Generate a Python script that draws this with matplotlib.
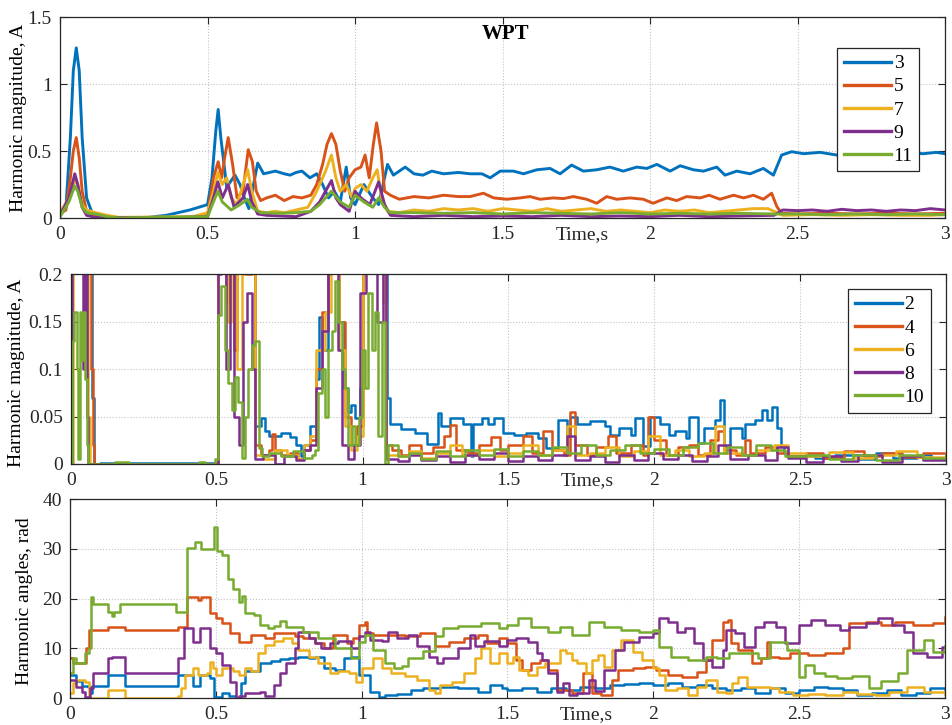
import matplotlib.pyplot as plt
from matplotlib.ticker import FormatStrFormatter
import numpy as np

plt.rcParams['font.family'] = ['Liberation Serif', 'DejaVu Serif']
plt.rcParams['font.size'] = 14

C_BLUE = '#0072BD'
C_ORANGE = '#D95319'
C_YELLOW = '#EDB120'
C_PURPLE = '#7E2F8E'
C_GREEN = '#77AC30'

# ---- odd harmonic magnitudes, A  (time s, value)
h3 = [(0, 0.03), (0.02, 0.08), (0.035, 0.6), (0.045, 1.1), (0.055, 1.27), (0.065, 1.1), (0.075, 0.6),
      (0.09, 0.15), (0.11, 0.03), (0.14, 0.01), (0.2, 0.0), (0.3, 0.005), (0.36, 0.02), (0.4, 0.04),
      (0.44, 0.06), (0.47, 0.08), (0.5, 0.1), (0.515, 0.3), (0.528, 0.65), (0.536, 0.81), (0.545, 0.6),
      (0.565, 0.23), (0.593, 0.32), (0.61, 0.25), (0.625, 0.15), (0.64, 0.07), (0.67, 0.41), (0.69, 0.33),
      (0.71, 0.34), (0.73, 0.35), (0.76, 0.33), (0.78, 0.32), (0.8, 0.34), (0.82, 0.35), (0.847, 0.3),
      (0.87, 0.33), (0.89, 0.25), (0.91, 0.15), (0.93, 0.2), (0.95, 0.12), (0.97, 0.38), (0.985, 0.15),
      (1.0, 0.1), (1.03, 0.25), (1.06, 0.15), (1.08, 0.1), (1.11, 0.4), (1.13, 0.32), (1.17, 0.38),
      (1.2, 0.33), (1.23, 0.32), (1.26, 0.35), (1.3, 0.33), (1.35, 0.34), (1.39, 0.33), (1.43, 0.33),
      (1.458, 0.3), (1.492, 0.35), (1.537, 0.35), (1.571, 0.33), (1.616, 0.36), (1.661, 0.37),
      (1.695, 0.33), (1.734, 0.395), (1.774, 0.35), (1.819, 0.36), (1.864, 0.38), (1.909, 0.35),
      (1.955, 0.38), (1.989, 0.37), (2.023, 0.4), (2.068, 0.35), (2.102, 0.39), (2.147, 0.36),
      (2.181, 0.35), (2.226, 0.38), (2.254, 0.32), (2.294, 0.35), (2.339, 0.33), (2.384, 0.37),
      (2.418, 0.32), (2.446, 0.47), (2.48, 0.495), (2.52, 0.48), (2.576, 0.49), (2.633, 0.47),
      (2.7, 0.49), (2.78, 0.48), (2.86, 0.49), (2.926, 0.48), (2.97, 0.49), (3.0, 0.48)]
h5 = [(0, 0.03), (0.02, 0.06), (0.035, 0.3), (0.045, 0.5), (0.055, 0.6), (0.065, 0.45), (0.075, 0.2),
      (0.09, 0.05), (0.11, 0.02), (0.15, 0.005), (0.3, 0.0), (0.45, 0.005), (0.5, 0.02), (0.52, 0.3),
      (0.536, 0.42), (0.548, 0.3), (0.558, 0.45), (0.57, 0.6), (0.585, 0.4), (0.6, 0.15), (0.62, 0.2),
      (0.638, 0.51), (0.652, 0.42), (0.665, 0.2), (0.68, 0.13), (0.7, 0.15), (0.73, 0.17), (0.76, 0.13),
      (0.79, 0.16), (0.82, 0.15), (0.85, 0.17), (0.87, 0.25), (0.89, 0.4), (0.905, 0.55), (0.92, 0.63),
      (0.935, 0.55), (0.95, 0.35), (0.965, 0.2), (0.98, 0.3), (1.0, 0.36), (1.02, 0.38), (1.034, 0.47),
      (1.048, 0.3), (1.062, 0.55), (1.073, 0.71), (1.088, 0.5), (1.1, 0.2), (1.12, 0.17), (1.15, 0.14),
      (1.2, 0.16), (1.25, 0.15), (1.3, 0.17), (1.35, 0.16), (1.39, 0.16), (1.435, 0.185), (1.47, 0.15),
      (1.514, 0.14), (1.56, 0.15), (1.593, 0.16), (1.627, 0.14), (1.672, 0.15), (1.706, 0.145),
      (1.74, 0.16), (1.785, 0.14), (1.819, 0.11), (1.853, 0.16), (1.887, 0.14), (1.932, 0.15),
      (1.977, 0.14), (2.01, 0.11), (2.057, 0.15), (2.09, 0.13), (2.124, 0.16), (2.17, 0.15), (2.2, 0.17),
      (2.237, 0.14), (2.283, 0.17), (2.317, 0.15), (2.35, 0.17), (2.384, 0.14), (2.412, 0.185),
      (2.43, 0.084), (2.446, 0.035), (2.5, 0.03), (2.6, 0.035), (2.7, 0.03), (2.8, 0.035), (2.9, 0.03),
      (3.0, 0.035)]
h7 = [(0, 0.04), (0.03, 0.15), (0.05, 0.28), (0.06, 0.25), (0.075, 0.1), (0.09, 0.06), (0.12, 0.04),
      (0.16, 0.02), (0.2, 0.005), (0.45, 0.01), (0.5, 0.04), (0.52, 0.2), (0.535, 0.34), (0.55, 0.25),
      (0.565, 0.3), (0.58, 0.15), (0.6, 0.1), (0.62, 0.25), (0.636, 0.36), (0.65, 0.2), (0.67, 0.05),
      (0.7, 0.04), (0.73, 0.05), (0.76, 0.04), (0.8, 0.06), (0.84, 0.08), (0.87, 0.2), (0.9, 0.35),
      (0.92, 0.47), (0.935, 0.3), (0.95, 0.2), (0.97, 0.25), (0.99, 0.15), (1.0, 0.22), (1.02, 0.25),
      (1.04, 0.2), (1.06, 0.3), (1.075, 0.36), (1.09, 0.15), (1.11, 0.05), (1.15, 0.04), (1.2, 0.06),
      (1.25, 0.05), (1.3, 0.07), (1.35, 0.06), (1.4, 0.07), (1.45, 0.05), (1.5, 0.07), (1.55, 0.06),
      (1.6, 0.05), (1.65, 0.07), (1.7, 0.05), (1.75, 0.06), (1.8, 0.07), (1.85, 0.05), (1.9, 0.06),
      (1.95, 0.05), (2.0, 0.04), (2.05, 0.06), (2.1, 0.05), (2.15, 0.06), (2.2, 0.04), (2.25, 0.05),
      (2.3, 0.06), (2.35, 0.07), (2.4, 0.07), (2.43, 0.04), (2.45, 0.02), (2.55, 0.025), (2.65, 0.02),
      (2.75, 0.025), (2.85, 0.02), (2.95, 0.02), (3.0, 0.025)]
h9 = [(0, 0.02), (0.03, 0.15), (0.05, 0.33), (0.06, 0.25), (0.075, 0.08), (0.09, 0.02), (0.12, 0.005),
      (0.3, 0.0), (0.5, 0.01), (0.52, 0.15), (0.535, 0.27), (0.55, 0.15), (0.57, 0.25), (0.59, 0.08),
      (0.62, 0.15), (0.636, 0.25), (0.65, 0.12), (0.67, 0.03), (0.7, 0.02), (0.8, 0.01), (0.85, 0.05),
      (0.88, 0.12), (0.92, 0.28), (0.935, 0.15), (0.95, 0.1), (0.98, 0.05), (1.0, 0.2), (1.02, 0.15),
      (1.05, 0.1), (1.08, 0.27), (1.1, 0.1), (1.12, 0.02), (1.2, 0.01), (1.3, 0.02), (1.4, 0.01),
      (1.5, 0.015), (1.6, 0.01), (1.7, 0.02), (1.8, 0.01), (1.9, 0.015), (2.0, 0.01), (2.1, 0.02),
      (2.2, 0.01), (2.3, 0.015), (2.42, 0.02), (2.45, 0.06), (2.5, 0.055), (2.55, 0.06), (2.6, 0.05),
      (2.65, 0.065), (2.7, 0.055), (2.75, 0.06), (2.8, 0.05), (2.85, 0.06), (2.9, 0.055), (2.95, 0.07),
      (3.0, 0.06)]
h11 = [(0, 0.01), (0.03, 0.12), (0.05, 0.24), (0.06, 0.2), (0.075, 0.08), (0.09, 0.04), (0.12, 0.03),
       (0.16, 0.01), (0.2, 0.0), (0.5, 0.01), (0.52, 0.12), (0.535, 0.2), (0.55, 0.12), (0.58, 0.06),
       (0.61, 0.1), (0.635, 0.14), (0.65, 0.08), (0.68, 0.04), (0.75, 0.035), (0.8, 0.04), (0.85, 0.05),
       (0.88, 0.1), (0.92, 0.2), (0.95, 0.12), (0.98, 0.08), (1.0, 0.17), (1.03, 0.12), (1.06, 0.08),
       (1.08, 0.15), (1.1, 0.08), (1.12, 0.04), (1.2, 0.04), (1.3, 0.035), (1.4, 0.04), (1.5, 0.03),
       (1.6, 0.04), (1.7, 0.035), (1.8, 0.03), (1.9, 0.04), (2.0, 0.03), (2.1, 0.035), (2.2, 0.03),
       (2.3, 0.035), (2.42, 0.03), (2.5, 0.03), (2.6, 0.025), (2.7, 0.03), (2.8, 0.025), (2.9, 0.03),
       (3.0, 0.025)]

# ---- even harmonic magnitudes, A
e2 = [(0, 0.0), (0.003, 0.3), (0.068, 0.3), (0.072, 0.07), (0.078, 0.0), (0.1, 0.001), (0.5, 0.001),
      (0.505, 0.3), (0.62, 0.3), (0.63, 0.04), (0.65, 0.048), (0.665, 0.035), (0.68, 0.03), (0.72, 0.033),
      (0.75, 0.028), (0.77, 0.02), (0.79, 0.008), (0.8, 0.02), (0.82, 0.04), (0.84, 0.09), (0.85, 0.155),
      (0.86, 0.12), (0.88, 0.2), (0.89, 0.3), (0.92, 0.15), (0.935, 0.08), (0.95, 0.055), (0.96, 0.062),
      (0.975, 0.048), (0.99, 0.08), (1.0, 0.3), (1.075, 0.3), (1.085, 0.07), (1.095, 0.042),
      (1.13, 0.037), (1.18, 0.033), (1.22, 0.021), (1.26, 0.054), (1.27, 0.04), (1.3, 0.048),
      (1.345, 0.042), (1.37, 0.008), (1.38, 0.042), (1.41, 0.048), (1.43, 0.042), (1.45, 0.048),
      (1.48, 0.033), (1.52, 0.031), (1.56, 0.033), (1.6, 0.027), (1.63, 0.017), (1.67, 0.046),
      (1.7, 0.03), (1.71, 0.05), (1.735, 0.042), (1.78, 0.045), (1.83, 0.04), (1.85, 0.031),
      (1.88, 0.038), (1.92, 0.031), (1.935, 0.048), (1.96, 0.019), (1.985, 0.05), (2.02, 0.042),
      (2.05, 0.031), (2.07, 0.035), (2.11, 0.027), (2.12, 0.05), (2.15, 0.022), (2.17, 0.038),
      (2.21, 0.046), (2.225, 0.067), (2.24, 0.019), (2.26, 0.038), (2.3, 0.027), (2.31, 0.042),
      (2.345, 0.046), (2.37, 0.057), (2.385, 0.046), (2.405, 0.06), (2.42, 0.038), (2.435, 0.019),
      (2.445, 0.012), (2.46, 0.008), (2.55, 0.006), (2.62, 0.01), (2.7, 0.005), (2.76, 0.012),
      (2.82, 0.006), (2.9, 0.009), (2.95, 0.005), (3.0, 0.008)]
e4 = [(0, 0.0), (0.003, 0.3), (0.04, 0.3), (0.045, 0.12), (0.05, 0.3), (0.065, 0.3), (0.07, 0.1),
      (0.075, 0.02), (0.08, 0.0), (0.5, 0.0), (0.505, 0.3), (0.53, 0.17), (0.54, 0.3), (0.56, 0.12),
      (0.57, 0.3), (0.6, 0.2), (0.62, 0.3), (0.63, 0.02), (0.65, 0.01), (0.68, 0.015), (0.69, 0.032),
      (0.7, 0.015), (0.72, 0.01), (0.75, 0.012), (0.78, 0.005), (0.8, 0.015), (0.82, 0.025), (0.84, 0.1),
      (0.86, 0.16), (0.88, 0.3), (0.92, 0.15), (0.94, 0.05), (0.96, 0.02), (0.98, 0.04), (1.0, 0.3),
      (1.07, 0.3), (1.08, 0.02), (1.1, 0.015), (1.13, 0.01), (1.16, 0.02), (1.2, 0.012), (1.24, 0.018),
      (1.28, 0.03), (1.3, 0.041), (1.32, 0.015), (1.36, 0.012), (1.4, 0.02), (1.44, 0.028), (1.47, 0.015),
      (1.5, 0.02), (1.55, 0.03), (1.58, 0.012), (1.62, 0.035), (1.65, 0.015), (1.69, 0.01), (1.71, 0.055),
      (1.73, 0.02), (1.77, 0.01), (1.8, 0.018), (1.84, 0.03), (1.87, 0.012), (1.92, 0.02), (1.96, 0.01),
      (1.98, 0.05), (2.0, 0.025), (2.04, 0.01), (2.08, 0.018), (2.12, 0.02), (2.15, 0.01), (2.19, 0.025),
      (2.22, 0.035), (2.24, 0.015), (2.28, 0.01), (2.31, 0.025), (2.33, 0.012), (2.38, 0.018),
      (2.42, 0.012), (2.46, 0.008), (2.52, 0.012), (2.58, 0.006), (2.65, 0.014), (2.72, 0.008),
      (2.78, 0.012), (2.85, 0.007), (2.92, 0.012), (3.0, 0.01)]
e6 = [(0, 0.0), (0.008, 0.3), (0.055, 0.3), (0.06, 0.05), (0.066, 0.0), (0.5, 0.0), (0.505, 0.25),
      (0.52, 0.3), (0.54, 0.15), (0.55, 0.3), (0.57, 0.1), (0.585, 0.2), (0.6, 0.3), (0.62, 0.25),
      (0.63, 0.01), (0.66, 0.005), (0.7, 0.015), (0.74, 0.01), (0.78, 0.005), (0.8, 0.02), (0.82, 0.03),
      (0.84, 0.12), (0.87, 0.16), (0.89, 0.3), (0.92, 0.12), (0.94, 0.04), (0.96, 0.015), (0.98, 0.03),
      (1.0, 0.25), (1.04, 0.3), (1.07, 0.17), (1.08, 0.01), (1.12, 0.008), (1.16, 0.014), (1.2, 0.006),
      (1.25, 0.012), (1.3, 0.02), (1.34, 0.01), (1.4, 0.015), (1.45, 0.008), (1.5, 0.012), (1.55, 0.02),
      (1.6, 0.01), (1.65, 0.015), (1.7, 0.04), (1.73, 0.01), (1.78, 0.012), (1.83, 0.018), (1.88, 0.008),
      (1.93, 0.014), (1.98, 0.03), (2.02, 0.01), (2.07, 0.015), (2.12, 0.008), (2.17, 0.012),
      (2.21, 0.04), (2.24, 0.012), (2.3, 0.01), (2.35, 0.015), (2.41, 0.02), (2.46, 0.012),
      (2.52, 0.008), (2.6, 0.013), (2.68, 0.006), (2.75, 0.01), (2.83, 0.014), (2.9, 0.007),
      (3.0, 0.012)]
e8 = [(0, 0.0), (0.005, 0.3), (0.035, 0.3), (0.04, 0.1), (0.048, 0.2), (0.055, 0.05), (0.06, 0.0),
      (0.5, 0.0), (0.505, 0.2), (0.515, 0.3), (0.53, 0.1), (0.545, 0.3), (0.56, 0.05), (0.575, 0.02),
      (0.59, 0.15), (0.605, 0.18), (0.62, 0.1), (0.63, 0.005), (0.66, 0.01), (0.7, 0.0), (0.73, 0.008),
      (0.77, 0.004), (0.8, 0.015), (0.82, 0.02), (0.84, 0.08), (0.86, 0.14), (0.88, 0.3), (0.915, 0.12),
      (0.93, 0.02), (0.95, 0.005), (0.97, 0.02), (0.99, 0.18), (1.01, 0.3), (1.05, 0.15), (1.07, 0.3),
      (1.08, 0.005), (1.12, 0.003), (1.16, 0.01), (1.2, 0.004), (1.25, 0.008), (1.3, 0.002),
      (1.35, 0.01), (1.4, 0.005), (1.45, 0.012), (1.5, 0.003), (1.55, 0.008), (1.6, 0.004),
      (1.65, 0.01), (1.7, 0.03), (1.73, 0.004), (1.78, 0.008), (1.83, 0.002), (1.88, 0.01),
      (1.93, 0.004), (1.98, 0.012), (2.03, 0.005), (2.08, 0.01), (2.13, 0.003), (2.18, 0.008),
      (2.22, 0.02), (2.26, 0.005), (2.32, 0.01), (2.38, 0.004), (2.42, 0.018), (2.46, 0.006),
      (2.52, 0.002), (2.58, 0.008), (2.64, 0.003), (2.7, 0.01), (2.78, 0.002), (2.85, 0.008),
      (2.92, 0.004), (3.0, 0.009)]
e10 = [(0, 0.0), (0.004, 0.13), (0.012, 0.16), (0.02, 0.1), (0.025, 0.005), (0.03, 0.16),
       (0.035, 0.11), (0.04, 0.16), (0.048, 0.09), (0.055, 0.02), (0.06, 0.0), (0.15, 0.002),
       (0.2, 0.0), (0.44, 0.002), (0.46, 0.0), (0.494, 0.005), (0.505, 0.157), (0.516, 0.187),
       (0.528, 0.12), (0.539, 0.085), (0.551, 0.057), (0.562, 0.092), (0.574, 0.065), (0.585, 0.006),
       (0.597, 0.05), (0.608, 0.1), (0.62, 0.125), (0.631, 0.13), (0.643, 0.017), (0.654, 0.008),
       (0.68, 0.012), (0.72, 0.008), (0.76, 0.014), (0.8, 0.006), (0.825, 0.01), (0.837, 0.015),
       (0.848, 0.075), (0.86, 0.1), (0.871, 0.05), (0.883, 0.12), (0.894, 0.14), (0.905, 0.193),
       (0.917, 0.15), (0.928, 0.1), (0.94, 0.08), (0.951, 0.02), (0.963, 0.04), (0.974, 0.02),
       (0.986, 0.05), (0.997, 0.12), (1.008, 0.08), (1.02, 0.18), (1.031, 0.12), (1.043, 0.16),
       (1.054, 0.03), (1.065, 0.15), (1.077, 0.0), (1.088, 0.02), (1.12, 0.008), (1.16, 0.012),
       (1.2, 0.005), (1.25, 0.014), (1.3, 0.008), (1.35, 0.015), (1.4, 0.01), (1.45, 0.016),
       (1.5, 0.008), (1.55, 0.014), (1.6, 0.01), (1.65, 0.018), (1.7, 0.012), (1.75, 0.02),
       (1.8, 0.01), (1.85, 0.015), (1.9, 0.02), (1.95, 0.012), (2.0, 0.016), (2.05, 0.01),
       (2.1, 0.018), (2.15, 0.022), (2.2, 0.012), (2.25, 0.018), (2.3, 0.01), (2.35, 0.02),
       (2.4, 0.015), (2.45, 0.008), (2.52, 0.01), (2.6, 0.005), (2.68, 0.01), (2.76, 0.004),
       (2.84, 0.01), (2.92, 0.006), (3.0, 0.01)]

# ---- harmonic angles, rad
p2 = [(0, 4.6), (0.02, 3.5), (0.04, 2.5), (0.06, 2.3), (0.068, 1.0), (0.075, 2.5), (0.13, 4.6),
      (0.19, 2.5), (0.37, 4.6), (0.42, 2.5), (0.445, 4.6), (0.48, 4.0), (0.495, 0.3), (0.52, 1.0),
      (0.545, 0.5), (0.57, 0.0), (0.585, 3.0), (0.6, 5.5), (0.63, 5.5), (0.65, 7.0), (0.69, 7.5),
      (0.72, 7.8), (0.75, 8.0), (0.78, 8.3), (0.82, 8.0), (0.84, 8.3), (0.87, 6.0), (0.91, 5.7),
      (0.94, 8.0), (0.965, 8.3), (0.99, 4.6), (1.03, 1.3), (1.06, 0.3), (1.08, 0.7), (1.12, 0.8),
      (1.17, 1.6), (1.21, 2.0), (1.27, 2.3), (1.33, 2.0), (1.4, 1.3), (1.44, 2.6), (1.48, 2.0),
      (1.5, 1.6), (1.55, 2.0), (1.6, 1.3), (1.65, 2.0), (1.7, 1.6), (1.75, 2.3), (1.8, 2.0),
      (1.85, 2.6), (1.9, 2.8), (1.95, 3.0), (2.0, 2.6), (2.05, 3.0), (2.1, 2.3), (2.15, 2.6),
      (2.2, 2.0), (2.25, 1.6), (2.3, 2.0), (2.35, 1.0), (2.4, 2.0), (2.45, 1.0), (2.5, 1.6),
      (2.55, 2.3), (2.6, 2.0), (2.65, 1.6), (2.7, 0.7), (2.75, 1.0), (2.8, 1.6), (2.85, 0.7),
      (2.9, 1.0), (2.95, 2.0), (3.0, 1.8)]
p4 = [(0, 8.0), (0.01, 7.0), (0.055, 10.0), (0.065, 13.7), (0.13, 14.3), (0.19, 13.7), (0.37, 14.3),
      (0.4, 20.3), (0.44, 19.7), (0.45, 20.3), (0.48, 17.0), (0.5, 16.0), (0.52, 15.0), (0.55, 13.0),
      (0.58, 11.3), (0.62, 12.7), (0.67, 12.0), (0.7, 13.0), (0.74, 13.0), (0.77, 12.5), (0.8, 12.0),
      (0.84, 11.0), (0.87, 10.0), (0.9, 12.7), (0.95, 11.0), (0.97, 12.0), (0.99, 14.7), (1.01, 15.3),
      (1.02, 13.0), (1.04, 12.7), (1.1, 12.7), (1.15, 12.4), (1.2, 13.0), (1.25, 10.5), (1.3, 11.3),
      (1.35, 12.0), (1.4, 12.7), (1.43, 11.0), (1.47, 12.0), (1.5, 11.0), (1.53, 7.7), (1.55, 5.6),
      (1.58, 7.0), (1.61, 7.7), (1.64, 5.6), (1.67, 1.6), (1.72, 1.0), (1.76, 5.0), (1.79, 1.0),
      (1.82, 0.7), (1.86, 3.6), (1.88, 5.6), (1.93, 6.0), (1.97, 6.3), (2.01, 5.6), (2.05, 4.6),
      (2.1, 4.3), (2.15, 5.3), (2.18, 7.7), (2.2, 11.7), (2.24, 15.3), (2.255, 15.7), (2.265, 11.0),
      (2.29, 9.7), (2.34, 7.0), (2.37, 8.0), (2.39, 11.3), (2.4, 8.3), (2.43, 8.0), (2.47, 9.0),
      (2.53, 8.6), (2.59, 9.0), (2.65, 10.0), (2.67, 15.0), (2.73, 15.3), (2.78, 14.7), (2.83, 15.3),
      (2.89, 14.7), (2.96, 15.0), (3.0, 16.3)]
p6 = [(0, 1.0), (0.01, 3.0), (0.02, 3.6), (0.05, 3.3), (0.065, 0.0), (0.13, 1.6), (0.19, 0.0),
      (0.37, 0.5), (0.38, 2.0), (0.395, 4.6), (0.42, 6.0), (0.44, 4.6), (0.47, 5.0), (0.48, 7.3),
      (0.49, 6.0), (0.5, 4.6), (0.52, 6.0), (0.56, 5.5), (0.58, 4.6), (0.6, 6.0), (0.62, 5.5),
      (0.645, 9.0), (0.67, 10.6), (0.7, 11.5), (0.73, 12.0), (0.76, 11.0), (0.78, 9.7), (0.82, 8.3),
      (0.85, 7.0), (0.89, 5.0), (0.92, 5.5), (0.955, 5.0), (0.98, 3.3), (1.0, 6.0), (1.04, 8.0),
      (1.07, 6.0), (1.1, 5.0), (1.15, 4.4), (1.19, 3.7), (1.23, 1.7), (1.25, 1.0), (1.27, 2.6),
      (1.31, 3.3), (1.35, 5.0), (1.39, 8.0), (1.41, 10.0), (1.44, 7.0), (1.47, 9.0), (1.5, 7.0),
      (1.52, 8.3), (1.54, 5.6), (1.57, 4.6), (1.6, 6.3), (1.63, 7.0), (1.68, 9.7), (1.7, 9.0),
      (1.72, 7.7), (1.74, 7.0), (1.77, 5.0), (1.79, 7.7), (1.81, 8.6), (1.83, 6.3), (1.86, 9.7),
      (1.89, 11.7), (1.93, 9.3), (1.96, 7.7), (2.0, 6.0), (2.02, 4.6), (2.04, 1.6), (2.08, 2.0),
      (2.12, 0.6), (2.15, 2.3), (2.18, 3.6), (2.22, 1.3), (2.25, 1.0), (2.27, 3.0), (2.29, 4.3),
      (2.32, 2.3), (2.4, 2.0), (2.43, 1.3), (2.48, 0.6), (2.53, 0.9), (2.59, 0.6), (2.65, 1.2),
      (2.7, 0.9), (2.76, 0.6), (2.81, 1.3), (2.87, 2.3), (2.93, 1.2), (3.0, 0.9)]
p8 = [(0, 3.6), (0.02, 2.3), (0.04, 1.3), (0.05, 0.3), (0.065, 0.0), (0.07, 2.0), (0.08, 5.0),
      (0.13, 8.0), (0.145, 8.3), (0.19, 5.0), (0.37, 8.0), (0.39, 14.0), (0.42, 11.3), (0.445, 14.0),
      (0.48, 10.0), (0.5, 9.0), (0.52, 6.6), (0.55, 3.3), (0.57, 0.0), (0.58, 0.5), (0.6, 1.0),
      (0.65, 1.3), (0.67, 0.5), (0.7, 2.6), (0.72, 5.0), (0.74, 7.0), (0.77, 10.0), (0.78, 13.3),
      (0.82, 12.0), (0.84, 11.0), (0.86, 10.0), (0.89, 11.0), (0.92, 11.5), (0.965, 10.0), (0.99, 12.4),
      (1.01, 13.3), (1.03, 11.7), (1.07, 11.4), (1.09, 13.3), (1.12, 12.0), (1.16, 12.7), (1.19, 10.4),
      (1.23, 8.3), (1.26, 7.0), (1.28, 8.0), (1.33, 10.0), (1.37, 12.7), (1.39, 10.4), (1.42, 11.5),
      (1.47, 10.4), (1.5, 11.7), (1.53, 12.0), (1.57, 11.3), (1.6, 9.0), (1.62, 7.7), (1.64, 5.0),
      (1.67, 1.3), (1.69, 3.0), (1.71, 0.7), (1.74, 1.0), (1.78, 3.6), (1.8, 1.5), (1.83, 5.6),
      (1.87, 9.7), (1.9, 11.3), (1.95, 12.3), (2.0, 13.0), (2.02, 16.0), (2.05, 15.3), (2.08, 13.3),
      (2.11, 14.0), (2.14, 11.0), (2.17, 7.7), (2.2, 6.3), (2.24, 9.7), (2.25, 13.7), (2.28, 13.0),
      (2.31, 10.3), (2.35, 14.3), (2.38, 15.3), (2.42, 14.3), (2.45, 11.0), (2.5, 14.7), (2.54, 15.7),
      (2.59, 14.7), (2.64, 13.7), (2.67, 14.3), (2.73, 15.0), (2.77, 16.0), (2.82, 14.7), (2.86, 13.3),
      (2.89, 9.0), (2.94, 8.3), (2.99, 10.3), (3.0, 10.3)]
p10 = [(0, 5.0), (0.01, 8.0), (0.02, 7.0), (0.05, 9.0), (0.065, 10.0), (0.072, 20.3), (0.08, 18.9),
       (0.13, 17.3), (0.145, 16.5), (0.15, 17.3), (0.17, 18.9), (0.365, 17.3), (0.4, 30.1), (0.43, 31.4),
       (0.45, 30.0), (0.495, 34.4), (0.505, 29.5), (0.52, 28.7), (0.54, 24.0), (0.56, 22.0), (0.58, 19.3),
       (0.59, 20.5), (0.6, 17.0), (0.63, 16.7), (0.65, 14.7), (0.68, 14.0), (0.7, 14.5), (0.72, 15.5),
       (0.74, 14.3), (0.8, 13.3), (0.85, 12.0), (0.91, 10.0), (0.965, 8.0), (0.99, 11.2), (1.01, 12.7),
       (1.04, 9.7), (1.08, 7.0), (1.11, 6.0), (1.14, 6.5), (1.16, 8.0), (1.21, 9.5), (1.25, 12.5),
       (1.28, 14.0), (1.33, 14.5), (1.41, 15.0), (1.47, 14.0), (1.5, 14.7), (1.537, 16.0), (1.58, 14.3),
       (1.64, 13.3), (1.68, 14.3), (1.72, 12.7), (1.78, 15.3), (1.83, 14.3), (1.89, 13.7), (1.95, 13.3),
       (2.0, 13.7), (2.02, 10.3), (2.06, 8.3), (2.12, 7.6), (2.18, 8.3), (2.22, 8.0), (2.26, 9.0),
       (2.314, 9.0), (2.36, 8.0), (2.4, 11.3), (2.46, 9.7), (2.5, 4.3), (2.52, 6.6), (2.55, 5.0),
       (2.59, 4.5), (2.63, 4.0), (2.68, 4.5), (2.74, 2.0), (2.78, 3.5), (2.84, 5.0), (2.87, 9.7),
       (2.93, 11.7), (2.96, 9.3), (3.0, 10.5)]

odd_labels = ['3', '5', '7', '9', '11']
even_labels = ['2', '4', '6', '8', '10']
colors = [C_BLUE, C_ORANGE, C_YELLOW, C_PURPLE, C_GREEN]


def style_axes(ax, ylim, yticks):
    ax.set_xlim(0, 3)
    ax.set_ylim(*ylim)
    ax.set_xticks(np.arange(0, 3.01, 0.5))
    ax.set_yticks(yticks)
    ax.xaxis.set_major_formatter(FormatStrFormatter('%g'))
    ax.yaxis.set_major_formatter(FormatStrFormatter('%g'))
    ax.tick_params(direction='in', top=True, right=True, length=5, width=0.8,
                   labelsize=14, colors='#262626', pad=6)
    ax.grid(True, linestyle=':', color='#c4c4c4', linewidth=0.8)
    for s in ax.spines.values():
        s.set_color('#262626')
        s.set_linewidth(0.9)
    # time label sits on the tick-label row, between 1.5 and 2 (x in data units)
    trans, va, ha = ax.get_xaxis_text1_transform(6)
    ax.text(1.77, 0, 'Time,s', transform=trans, va=va, ha='center', fontsize=14, color='#262626')


def add_legend(ax, anchor):
    leg = ax.legend(loc='upper right', bbox_to_anchor=anchor, borderaxespad=0, fontsize=14,
                    handlelength=2.4, handletextpad=0.15, labelspacing=0.28, borderpad=0.35,
                    fancybox=False, framealpha=1, edgecolor='#262626')
    leg.get_frame().set_linewidth(0.9)
    for ln in leg.get_lines():
        ln.set_linewidth(2.4)


fig = plt.figure(figsize=(9.53, 7.25), dpi=100)
ax1 = fig.add_axes([0.063, 0.6993, 0.9287, 0.2772])
ax2 = fig.add_axes([0.0745, 0.36, 0.918, 0.262])
ax3 = fig.add_axes([0.0735, 0.0372, 0.918, 0.2745])

for data, lab, c in zip([h3, h5, h7, h9, h11], odd_labels, colors):
    t, v = np.array(data).T
    ax1.plot(t, v, color=c, lw=2.1, label=lab)
style_axes(ax1, (0, 1.5), [0, 0.5, 1, 1.5])
ax1.set_ylabel('Harmonic magnitude, A', fontsize=14)
ax1.yaxis.set_label_coords(-0.037, 0.5)
ax1.text(0.503, 0.915, 'WPT', transform=ax1.transAxes, ha='center', va='center',
         fontweight='bold', fontsize=15)
add_legend(ax1, (0.971, 0.846))

for data, lab, c in zip([e2, e4, e6, e8, e10], even_labels, colors):
    t, v = np.array(data).T
    ax2.plot(t, v, color=c, lw=1.8, drawstyle='steps-post', label=lab)
style_axes(ax2, (0, 0.2), [0, 0.05, 0.1, 0.15, 0.2])
ax2.set_ylabel('Harmonic magnitude, A', fontsize=14)
ax2.yaxis.set_label_coords(-0.053, 0.48)
add_legend(ax2, (0.983, 0.921))

for data, c in zip([p2, p4, p6, p8, p10], colors):
    t, v = np.array(data).T
    ax3.plot(t, v, color=c, lw=1.8, drawstyle='steps-post')
style_axes(ax3, (0, 40), [0, 10, 20, 30, 40])
ax3.set_ylabel('Harmonic angles, rad', fontsize=14)
ax3.yaxis.set_label_coords(-0.042, 0.487)

fig.savefig('out.png', dpi=100)
